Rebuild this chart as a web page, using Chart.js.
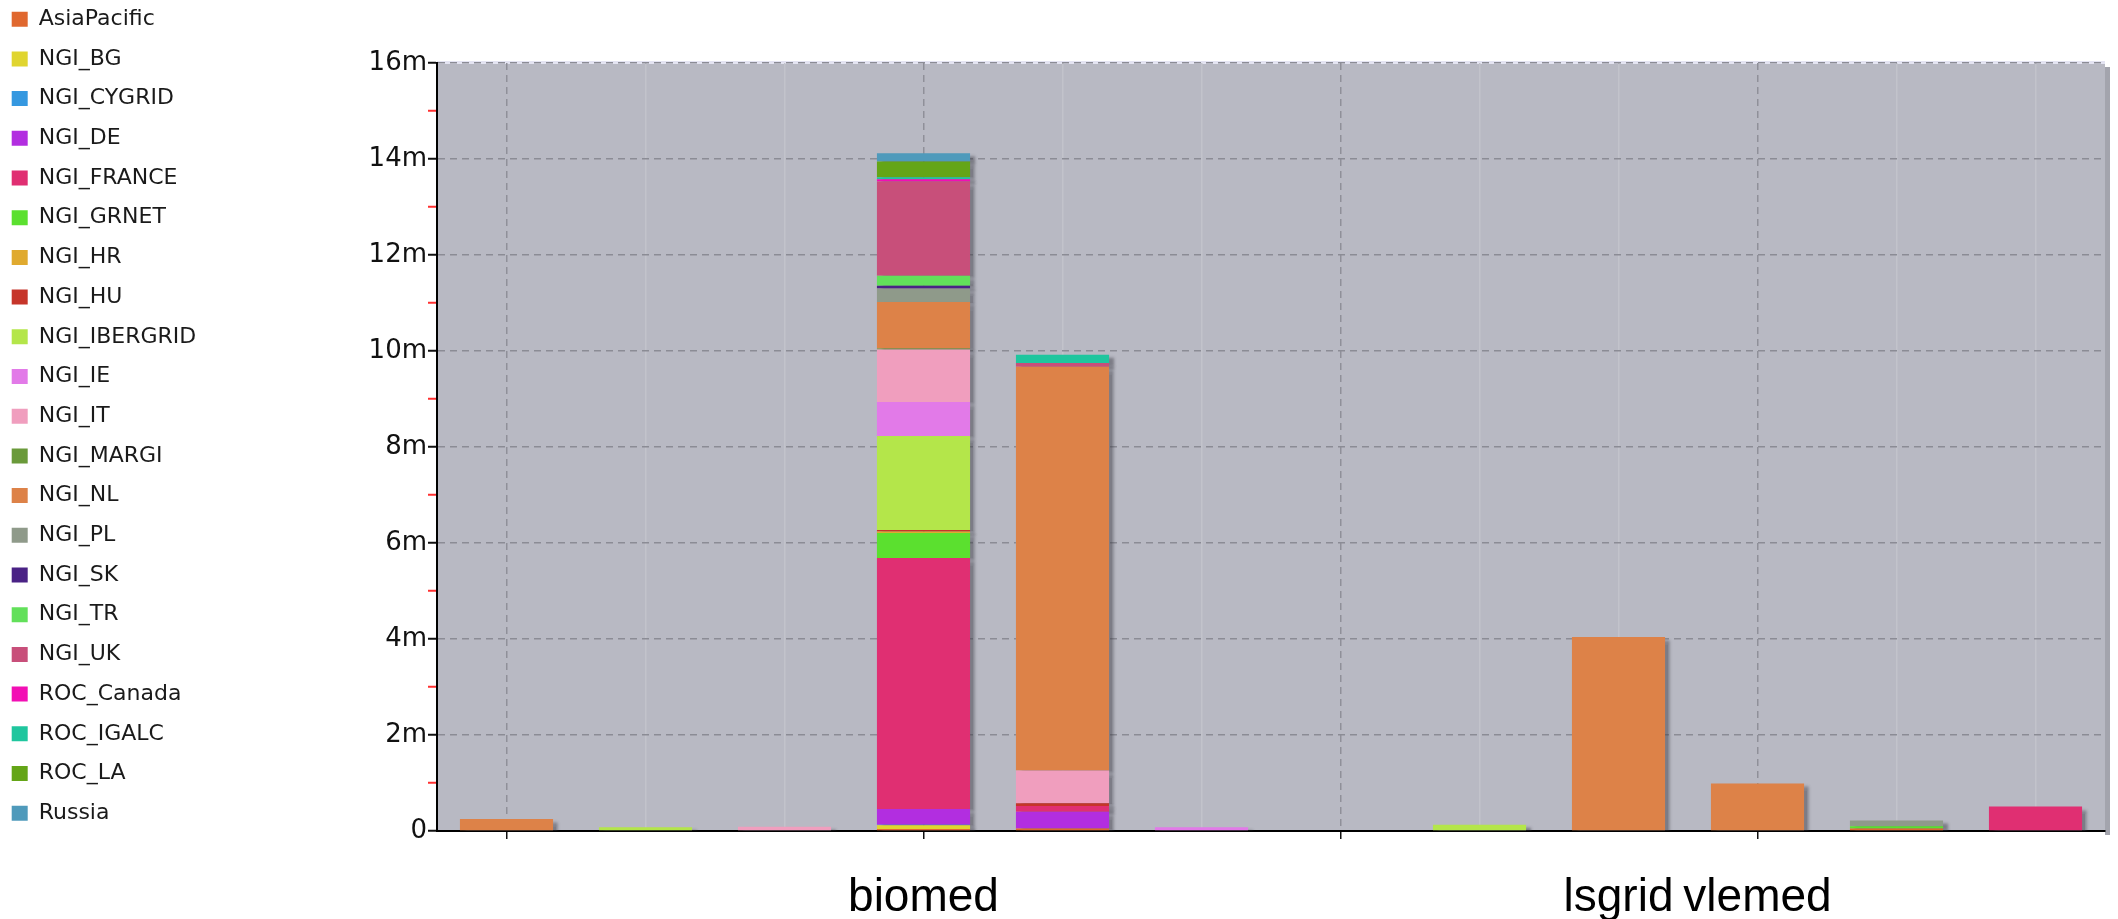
<!DOCTYPE html>
<html>
<head>
<meta charset="utf-8">
<script src="https://cdn.jsdelivr.net/npm/chart.js@4.4.1/dist/chart.umd.min.js"></script>
<style>
  html, body { margin: 0; padding: 0; background: #fff; }
  #wrap { width: 2118px; height: 919px; position: relative; }
</style>
</head>
<body>
<div id="wrap"><canvas id="myChart"></canvas></div>
<script>
// categories (only three names are readable in the picture)
var categories = ['', '', '', 'biomed', '', '', '', '', 'lsgrid', 'vlemed', '', ''];

// y tick labels, indexed by value (millions)
var yTickLabels = ['0', '', '2m', '', '4m', '', '6m', '', '8m', '', '10m', '', '12m', '', '14m', '', '16m'];

// values in millions, one entry per category
var asiaPacific = [0, 0, 0, 0.04, 0.05, 0, 0, 0, 0, 0, 0.05, 0];
var ngiBG       = [0, 0, 0, 0.08, 0, 0, 0, 0, 0, 0, 0, 0];
var ngiCYGRID   = [0, 0, 0, 0.01, 0, 0, 0, 0, 0, 0, 0, 0];
var ngiDE       = [0, 0, 0, 0.33, 0.35, 0, 0, 0, 0, 0, 0, 0];
var ngiFRANCE   = [0, 0, 0, 5.23, 0.12, 0, 0, 0, 0, 0, 0, 0.51];
var ngiGRNET    = [0, 0, 0, 0.52, 0, 0, 0, 0, 0, 0, 0.05, 0];
var ngiHR       = [0, 0, 0, 0.03, 0, 0, 0, 0, 0, 0, 0, 0];
var ngiHU       = [0, 0, 0, 0.03, 0.06, 0, 0, 0, 0, 0, 0, 0];
var ngiIBERGRID = [0, 0.08, 0, 1.96, 0, 0, 0, 0.13, 0, 0, 0, 0];
var ngiIE       = [0, 0, 0, 0.71, 0, 0.08, 0, 0, 0, 0, 0, 0];
var ngiIT       = [0, 0, 0.09, 1.09, 0.68, 0, 0, 0, 0, 0, 0, 0];
var ngiMARGI    = [0, 0, 0, 0.02, 0, 0, 0, 0, 0, 0, 0, 0];
var ngiNL       = [0.25, 0, 0, 0.97, 8.41, 0, 0, 0, 4.04, 0.99, 0, 0];
var ngiPL       = [0, 0, 0, 0.28, 0, 0, 0, 0, 0, 0, 0.12, 0];
var ngiSK       = [0, 0, 0, 0.06, 0, 0, 0, 0, 0, 0, 0, 0];
var ngiTR       = [0, 0, 0, 0.21, 0, 0, 0, 0, 0, 0, 0, 0];
var ngiUK       = [0, 0, 0, 1.96, 0.08, 0, 0, 0, 0, 0, 0, 0];
var rocCanada   = [0, 0, 0, 0.05, 0, 0, 0, 0, 0, 0, 0, 0];
var rocIGALC    = [0, 0, 0, 0.04, 0.17, 0, 0, 0, 0, 0, 0, 0];
var rocLA       = [0, 0, 0, 0.33, 0, 0, 0, 0, 0, 0, 0, 0];
var russia      = [0, 0, 0, 0.17, 0, 0, 0, 0, 0, 0, 0, 0];

var seriesNames = ['AsiaPacific', 'NGI_BG', 'NGI_CYGRID', 'NGI_DE', 'NGI_FRANCE', 'NGI_GRNET', 'NGI_HR',
  'NGI_HU', 'NGI_IBERGRID', 'NGI_IE', 'NGI_IT', 'NGI_MARGI', 'NGI_NL', 'NGI_PL', 'NGI_SK', 'NGI_TR',
  'NGI_UK', 'ROC_Canada', 'ROC_IGALC', 'ROC_LA', 'Russia'];
var seriesValues = [asiaPacific, ngiBG, ngiCYGRID, ngiDE, ngiFRANCE, ngiGRNET, ngiHR, ngiHU, ngiIBERGRID,
  ngiIE, ngiIT, ngiMARGI, ngiNL, ngiPL, ngiSK, ngiTR, ngiUK, rocCanada, rocIGALC, rocLA, russia];
var seriesColors = ['#e0682f', '#e0d530', '#3598e0', '#b22ee0', '#e02f72', '#5be02f', '#e0aa2f',
  '#c6352a', '#b4e64a', '#e27ae8', '#f09ebe', '#6a9a3a', '#dd8248', '#8f9a8a', '#4a2285', '#62e05a',
  '#c84f7a', '#f20fb4', '#1fc69e', '#64a517', '#4f9abb'];

var datasets = seriesNames.map(function (name, i) {
    return {
        label: name,
        data: seriesValues[i],
        backgroundColor: seriesColors[i],
        borderWidth: 0,
        barPercentage: 0.67,
        categoryPercentage: 1.0
    };
});

// grey plot background
var plotBg = {
    id: 'plotBg',
    beforeDraw: function (chart) {
        var a = chart.chartArea, c = chart.ctx;
        c.save();
        c.fillStyle = '#a3a4ad';
        c.fillRect(a.right, a.top + 4, 5, a.bottom - a.top);
        c.fillStyle = '#b8b9c3';
        c.fillRect(a.left, a.top, a.right - a.left, a.bottom - a.top);
        c.fillStyle = '#e4e4f2';
        c.fillRect(a.left, a.top - 2, a.right - a.left, 3);
        c.restore();
    }
};

// soft drop shadow on the bars
var barShadow = {
    id: 'barShadow',
    beforeDatasetsDraw: function (chart) {
        var c = chart.ctx;
        c.save();
        c.shadowColor = 'rgba(50,50,60,0.45)';
        c.shadowOffsetX = 5;
        c.shadowOffsetY = 3;
        c.shadowBlur = 3;
    },
    afterDatasetsDraw: function (chart) {
        chart.ctx.restore();
    }
};

// nudge the legend into the top-left corner
var legendShift = {
    id: 'legendShift',
    afterLayout: function (chart) {
        chart.legend.left = -6;
        chart.legend.top = -9.5;
    }
};

var ctx = document.getElementById('myChart').getContext('2d');
var myChart = new Chart(ctx, {
    type: 'bar',
    data: { labels: categories, datasets: datasets },
    plugins: [plotBg, barShadow, legendShift],
    options: {
        responsive: true,
        maintainAspectRatio: false,
        animation: false,
        layout: { padding: { right: 13 } },
        plugins: {
            tooltip: { enabled: false },
            title: {
                display: true,
                text: ' ',
                font: { size: 10 },
                padding: { top: 0, bottom: 51 }
            },
            legend: {
                position: 'left',
                align: 'start',
                labels: {
                    boxWidth: 16,
                    boxHeight: 15,
                    padding: 17.7,
                    color: '#1a1a1a',
                    font: { family: 'DejaVu Sans', size: 22 }
                }
            }
        },
        scales: {
            x: {
                stacked: true,
                afterFit: function (scale) { scale.height = 88; },
                grid: {
                    offset: false,
                    color: function (c) { return c.index % 3 === 0 ? '#8f9099' : '#c2c3cb'; },
                    lineWidth: 1.5,
                    tickLength: 8,
                    tickColor: function (c) { return c.index % 3 === 0 ? '#111' : 'rgba(0,0,0,0)'; }
                },
                border: {
                    color: '#000',
                    width: 2,
                    dash: function (c) { return c.index % 3 === 0 ? [7, 5] : []; }
                },
                ticks: {
                    autoSkip: false,
                    maxRotation: 0,
                    minRotation: 0,
                    padding: 32,
                    color: '#000',
                    font: { family: 'Liberation Sans', size: 46 }
                }
            },
            y: {
                stacked: true,
                min: 0,
                max: 16,
                afterFit: function (scale) { scale.width = 437 - scale.chart.legend.width; },
                grid: {
                    color: function (c) { return c.tick && c.tick.value % 2 === 0 ? '#8b8c95' : 'rgba(0,0,0,0)'; },
                    lineWidth: 1.5,
                    tickLength: 9,
                    tickWidth: 2,
                    tickColor: function (c) { return c.tick && c.tick.value % 2 === 0 ? '#111' : '#ff3030'; }
                },
                border: { color: '#000', width: 2, dash: [7, 5] },
                ticks: {
                    stepSize: 1,
                    autoSkip: false,
                    padding: 1,
                    color: '#111',
                    font: { family: 'DejaVu Sans', size: 26 },
                    callback: function (v) { return yTickLabels[v]; }
                }
            }
        }
    }
});
</script>
</body>
</html>
